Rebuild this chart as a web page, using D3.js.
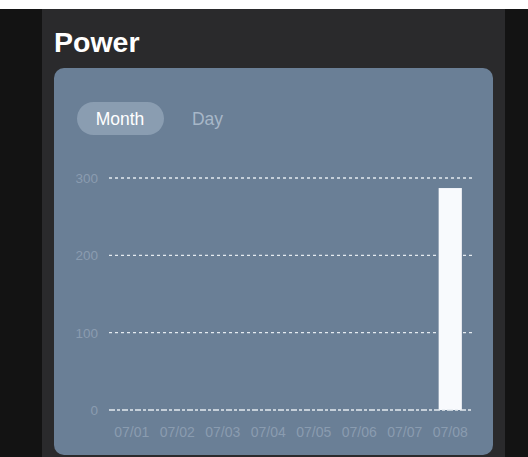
<!DOCTYPE html>
<html>
<head>
<meta charset="utf-8">
<script src="https://cdn.jsdelivr.net/npm/d3@7/dist/d3.min.js"></script>
<style>
  html, body { margin: 0; padding: 0; background: #fff; }
  svg { display: block; }
</style>
</head>
<body>
<svg id="chart" width="528" height="457"></svg>
<script>
// Daily power readings for the current month
const categories = ["07/01", "07/02", "07/03", "07/04", "07/05", "07/06", "07/07", "07/08"];
const values = [0, 0, 0, 0, 0, 0, 0, 287];
const yTicks = [0, 100, 200, 300];
const tabs = ["Month", "Day"];

const svg = d3.select("#chart");
const font = "'Helvetica Neue', 'Liberation Sans', Arial, sans-serif";

// page backgrounds
svg.append("rect").attr("x", 0).attr("y", 9).attr("width", 528).attr("height", 448).attr("fill", "#131313");
svg.append("rect").attr("x", 42).attr("y", 9).attr("width", 463).attr("height", 448).attr("fill", "#2a2a2c");

svg.append("text").attr("x", 54).attr("y", 52)
  .attr("font-family", font).attr("font-weight", 700).attr("font-size", 28.5)
  .attr("fill", "#ffffff").text("Power");

// card
svg.append("rect").attr("x", 54).attr("y", 68).attr("width", 439).attr("height", 387)
  .attr("rx", 10).attr("fill", "#6a7f96");

// tab switcher
svg.append("rect").attr("x", 77).attr("y", 102).attr("width", 87).attr("height", 33)
  .attr("rx", 16.5).attr("fill", "#8a9db1");
svg.append("text").attr("x", 120).attr("y", 125).attr("text-anchor", "middle")
  .attr("font-family", font).attr("font-size", 17.5).attr("fill", "#ffffff").text(tabs[0]);
svg.append("text").attr("x", 207.5).attr("y", 125).attr("text-anchor", "middle")
  .attr("font-family", font).attr("font-size", 17.5).attr("fill", "#a7b7c8").text(tabs[1]);

// scales
const x = d3.scaleBand().domain(categories).range([109, 473]).paddingInner(0.49).paddingOuter(0.245);
const y = d3.scaleLinear().domain([0, 300]).range([410, 178]);

const g = svg.append("g");

// gridlines
g.selectAll("line.grid").data(yTicks.filter(d => d > 0)).join("line")
  .attr("class", "grid")
  .attr("x1", 109).attr("x2", 473)
  .attr("y1", d => y(d)).attr("y2", d => y(d))
  .attr("stroke", "#e4eaf0").attr("stroke-width", 1.3)
  .attr("stroke-dasharray", "3,3");

// y labels
g.selectAll("text.ytick").data(yTicks).join("text")
  .attr("class", "ytick")
  .attr("x", 98).attr("y", d => y(d) + 5)
  .attr("text-anchor", "end")
  .attr("font-family", font).attr("font-size", 13.5)
  .attr("fill", "#8a9cb0")
  .text(d => d);

// bars
g.selectAll("rect.bar").data(values.map((v, i) => ({ c: categories[i], v }))).join("rect")
  .attr("class", "bar")
  .attr("x", d => x(d.c)).attr("width", x.bandwidth())
  .attr("y", d => y(d.v)).attr("height", d => y(0) - y(d.v))
  .attr("fill", "#f8fafd");

// baseline
g.append("line")
  .attr("x1", 109).attr("x2", 473).attr("y1", y(0)).attr("y2", y(0))
  .attr("stroke", "#e4eaf0").attr("stroke-width", 1.3)
  .attr("stroke-dasharray", "6,2,3,2");

// x labels
g.selectAll("text.xtick").data(categories).join("text")
  .attr("class", "xtick")
  .attr("x", d => x(d) + x.bandwidth() / 2).attr("y", 437)
  .attr("text-anchor", "middle")
  .attr("font-family", font).attr("font-size", 14)
  .attr("fill", "#8a9cb0")
  .text(d => d);
</script>
</body>
</html>
